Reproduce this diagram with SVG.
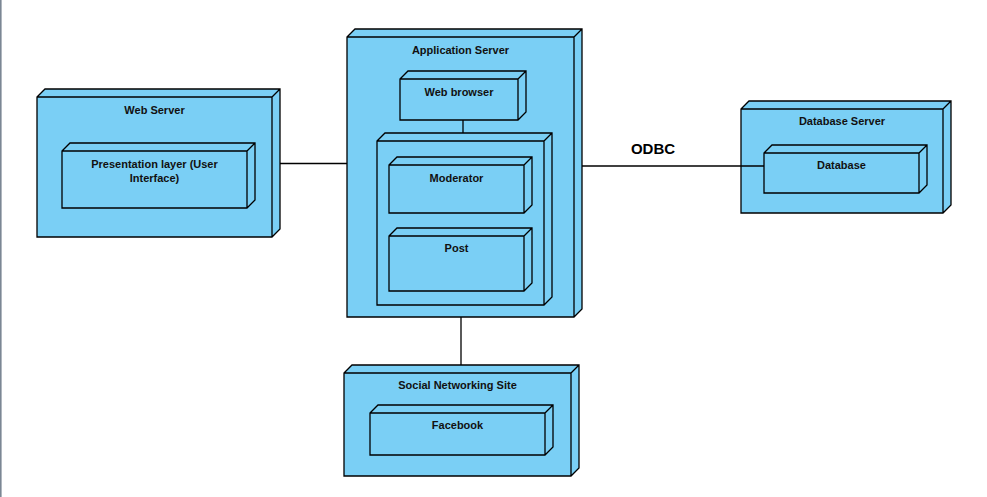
<svg xmlns="http://www.w3.org/2000/svg" width="987" height="497" viewBox="0 0 987 497">
<style>
.node{fill:#7ACFF5;stroke:#000;stroke-width:1.3;stroke-linejoin:miter}
.edge{fill:none;stroke:#000;stroke-width:1.3}
.lbl{font-family:"Liberation Sans",Arial,sans-serif;font-size:11px;font-weight:bold;fill:#111;text-anchor:middle}
.odbc{font-family:"Liberation Sans",Arial,sans-serif;font-size:15px;font-weight:bold;fill:#000;text-anchor:middle}
</style>
<rect x="0" y="0" width="987" height="497" fill="#fff"/>
<rect x="0" y="0" width="1.6" height="497" fill="#7b8794"/>
<g id="web-server">
<path class="node" d="M37,97 L45,89 L280,89 L280,229 L272,237 L37,237 Z M37,97 L272,97 L272,237 M272,97 L280,89"/>
<text class="lbl" x="154.5" y="113.5">Web Server</text>
</g>
<g id="presentation-layer">
<path class="node" d="M62,151 L70,143 L255,143 L255,200 L247,208 L62,208 Z M62,151 L247,151 L247,208 M247,151 L255,143"/>
<text class="lbl" x="154.5" y="167.5">Presentation layer (User</text>
<text class="lbl" x="154.5" y="182">Interface)</text>
</g>
<g id="application-server">
<path class="node" d="M347,37 L355,29 L582,29 L582,309 L574,317 L347,317 Z M347,37 L574,37 L574,317 M574,37 L582,29"/>
<text class="lbl" x="460.5" y="53.5">Application Server</text>
</g>
<g id="web-browser">
<path class="node" d="M400,79 L408,71 L526,71 L526,112 L518,120 L400,120 Z M400,79 L518,79 L518,120 M518,79 L526,71"/>
<text class="lbl" x="459" y="95.5">Web browser</text>
</g>
<g id="container">
<path class="node" d="M377,141 L385,133 L552,133 L552,297 L544,305 L377,305 Z M377,141 L544,141 L544,305 M544,141 L552,133"/>
</g>
<g id="moderator">
<path class="node" d="M389,165 L397,157 L532,157 L532,205 L524,213 L389,213 Z M389,165 L524,165 L524,213 M524,165 L532,157"/>
<text class="lbl" x="456.5" y="181.5">Moderator</text>
</g>
<g id="post">
<path class="node" d="M389,236 L397,228 L532,228 L532,283 L524,291 L389,291 Z M389,236 L524,236 L524,291 M524,236 L532,228"/>
<text class="lbl" x="456.5" y="252">Post</text>
</g>
<g id="social-networking-site">
<path class="node" d="M344,373 L352,365 L579,365 L579,468 L571,476 L344,476 Z M344,373 L571,373 L571,476 M571,373 L579,365"/>
<text class="lbl" x="457.5" y="388.5">Social Networking Site</text>
</g>
<g id="facebook">
<path class="node" d="M370,413 L378,405 L553,405 L553,447 L545,455 L370,455 Z M370,413 L545,413 L545,455 M545,413 L553,405"/>
<text class="lbl" x="457.5" y="428.5">Facebook</text>
</g>
<g id="database-server">
<path class="node" d="M741,109 L749,101 L951,101 L951,205 L943,213 L741,213 Z M741,109 L943,109 L943,213 M943,109 L951,101"/>
<text class="lbl" x="842" y="125">Database Server</text>
</g>
<g id="database">
<path class="node" d="M764,153 L772,145 L927,145 L927,185 L919,193 L764,193 Z M764,153 L919,153 L919,193 M919,153 L927,145"/>
<text class="lbl" x="841.5" y="168.5">Database</text>
</g>
<g id="connectors">
<path class="edge" d="M280,163.5 H347"/>
<path class="edge" d="M463,120 V133"/>
<path class="edge" d="M461,317 V365"/>
<path class="edge" d="M582,166 H764"/>
<text class="odbc" x="653" y="154">ODBC</text>
</g>
</svg>
